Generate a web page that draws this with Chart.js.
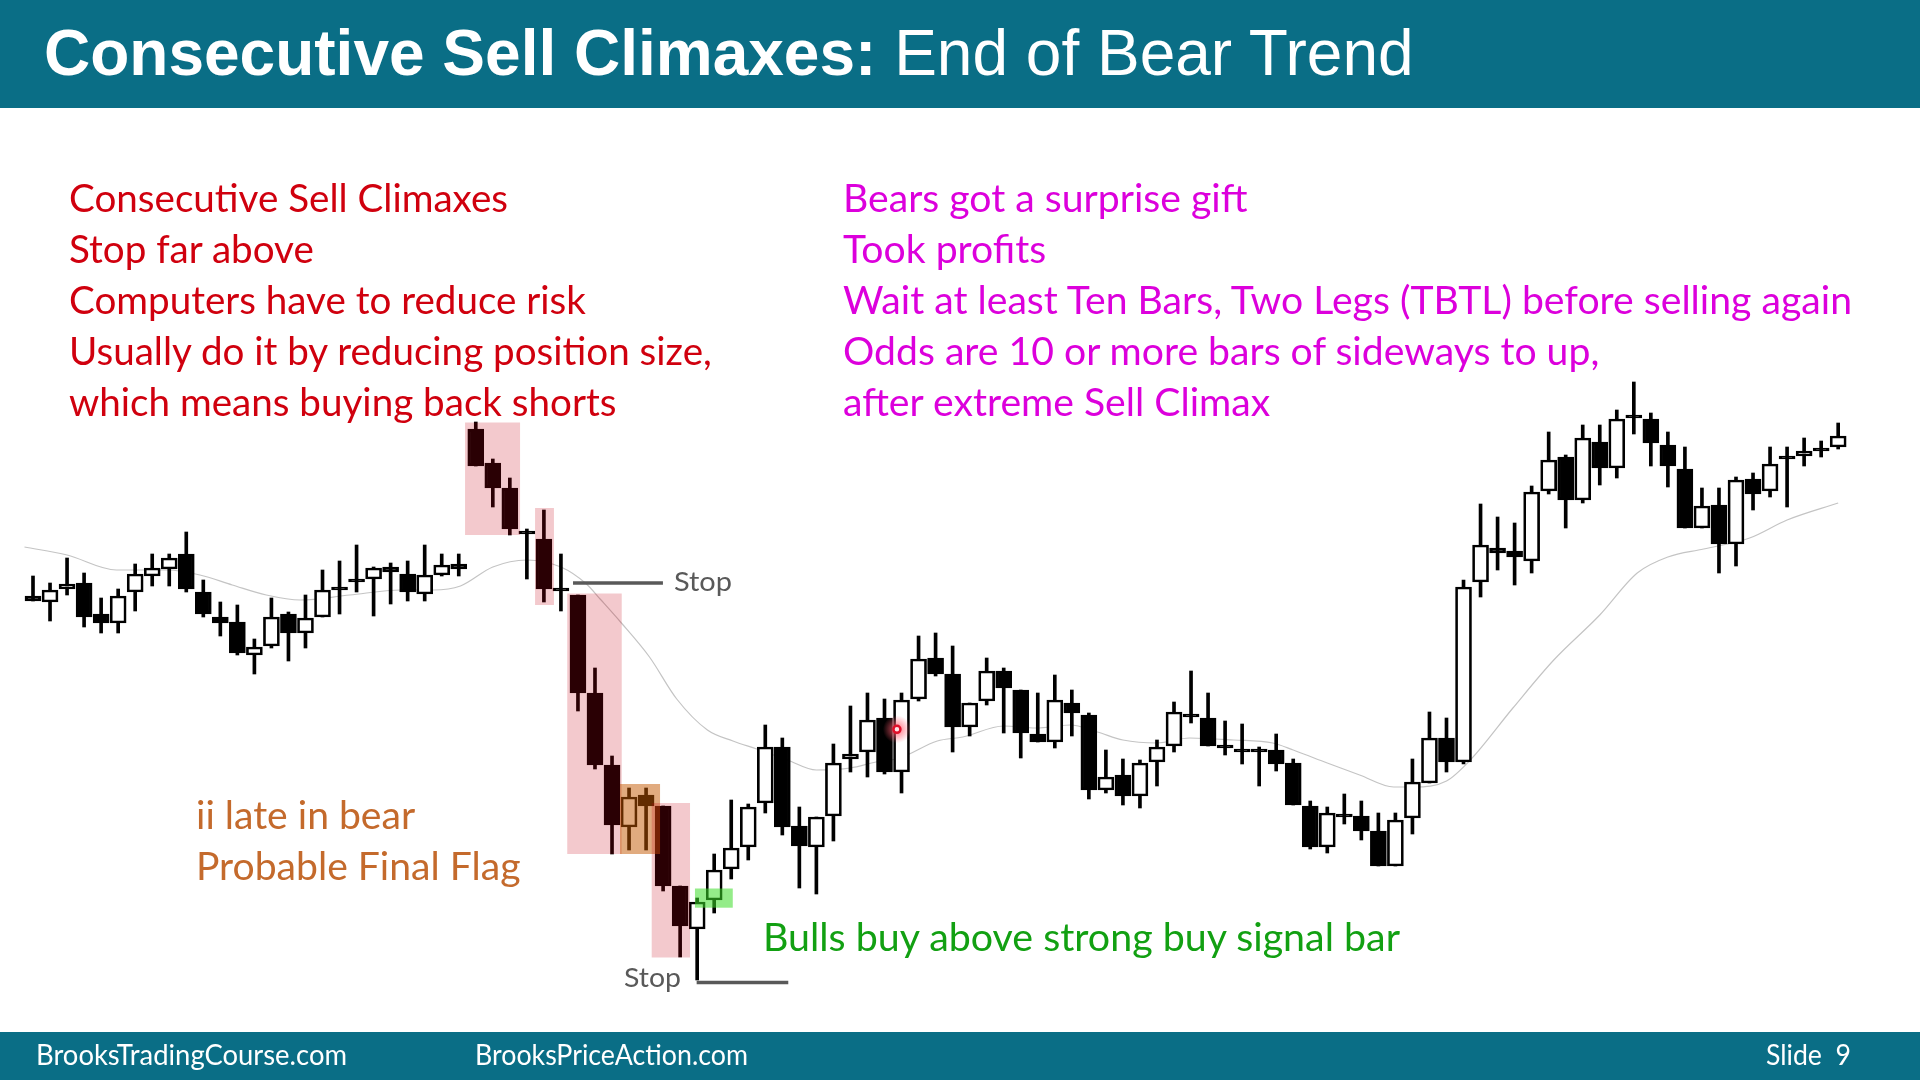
<!DOCTYPE html>
<html>
<head>
<meta charset="utf-8">
<title>Consecutive Sell Climaxes</title>
<script src="https://cdn.jsdelivr.net/npm/chart.js@4.4.1/dist/chart.umd.min.js"></script>
<style>
  html, body { margin: 0; padding: 0; background: #fff; }
  body { width: 1920px; height: 1080px; position: relative; overflow: hidden; font-family: Lato, "Open Sans", sans-serif; }
  .band { position: absolute; left: 0; width: 1920px; background: #0a6e86; }
  #chart { position: absolute; left: 0; top: 0; }
  .txt { position: absolute; white-space: nowrap; transform-origin: 0 0; }
  .note { font-size: 38px; line-height: 51.2px; }
  .red { left: 68.5px; top: 171.5px; color: #d0000e; }
  .mag { left: 842.5px; top: 171.5px; color: #dc00dc; }
  .brown { left: 196px; top: 789px; color: #c46a2c; }
  .green { left: 763px; top: 911px; color: #12a012; }
  .stop { font-size: 26.5px; line-height: 1; color: #595959; }
  .foot { font-size: 29px; line-height: 1; color: #fff; top: 1039px; }
  #title { left: 44px; top: 21px; font-family: "Liberation Sans", Arial, sans-serif; font-size: 64px; line-height: 1; color: #fff; }
</style>
</head>
<body>
<div class="band" style="top:0;height:108px;"></div>
<div class="band" style="top:1032px;height:48px;"></div>
<canvas id="chart" width="1920" height="1080"></canvas>

<div class="txt" id="title"><b>Consecutive Sell Climaxes:</b> End of Bear Trend</div>

<div class="txt note red" data-w="439"><span class="ref">Consecutive Sell Climaxes</span><br>Stop far above<br>Computers have to reduce risk<br>Usually do it by reducing position size,<br>which means buying back shorts</div>
<div class="txt note mag" data-w="1009">Bears got a surprise gift<br>Took profits<br><span class="ref">Wait at least Ten Bars, Two Legs (TBTL) before selling again</span><br>Odds are 10 or more bars of sideways to up,<br>after extreme Sell Climax</div>
<div class="txt note brown" data-w="324.5">ii late in bear<br><span class="ref">Probable Final Flag</span></div>
<div class="txt note green" data-w="637"><span class="ref">Bulls buy above strong buy signal bar</span></div>
<div class="txt stop" style="left:674px;top:568px;" data-w="58"><span class="ref">Stop</span></div>
<div class="txt stop" style="left:624px;top:964px;" data-w="57"><span class="ref">Stop</span></div>

<div class="txt foot" style="left:35.5px;" data-w="311"><span class="ref">BrooksTradingCourse.com</span></div>
<div class="txt foot" style="left:475px;" data-w="273"><span class="ref">BrooksPriceAction.com</span></div>
<div class="txt foot" style="left:1766px;" data-w="85"><span class="ref">Slide&nbsp;&nbsp;9</span></div>

<script>
// price bars, one entry per bar
let opens = [404, 398, 411, 417, 386, 377, 408, 424, 431, 446, 408, 383, 378, 345, 354, 386, 367, 383, 413, 421,
  421, 433, 426, 406, 425, 436, 571, 537, 512, 468, 461, 411, 405, 307, 235, 173, 205, 194, 114, 71,
  100, 131, 153, 197, 253, 174, 153, 184, 241, 248, 282, 228, 301, 342, 326, 273, 299, 329, 310, 266,
  258, 297, 285, 210, 225, 204, 238, 254, 285, 282, 254, 250, 250, 250, 237, 194, 153, 185, 184, 169,
  134, 182, 217, 262, 238, 418, 452, 449, 439, 509, 543, 500, 558, 532, 584, 581, 555, 531, 472, 495,
  456, 521, 509, 543, 544, 551, 553];
let highs = [424, 417, 442, 427, 402, 411, 436, 446, 446, 468, 420, 398, 395, 361, 402, 388, 405, 430, 439, 455,
  433, 437, 439, 455, 446, 446, 578, 541, 522, 471, 490, 446, 405, 332, 244, 212, 212, 194, 114, 102,
  146, 200, 196, 275, 262, 193, 183, 256, 294, 307, 301, 307, 364, 367, 354, 297, 342, 332, 310, 307,
  325, 310, 287, 250, 241, 240, 260, 298, 329, 307, 279, 276, 253, 266, 241, 199, 193, 206, 199, 187,
  187, 241, 288, 282, 420, 496, 483, 477, 514, 568, 545, 575, 575, 590, 618, 587, 568, 553, 512, 512,
  523, 527, 553, 553, 562, 559, 577];
let lows = [399, 379, 405, 373, 367, 367, 389, 414, 414, 408, 383, 364, 345, 326, 352, 339, 352, 383, 386, 408,
  384, 396, 399, 399, 424, 424, 534, 493, 465, 421, 398, 389, 289, 231, 146, 150, 150, 109, 43, 20,
  87, 121, 140, 187, 165, 112, 106, 159, 228, 223, 226, 207, 299, 324, 248, 264, 295, 267, 242, 258,
  252, 264, 201, 207, 195, 192, 214, 248, 277, 254, 245, 236, 214, 229, 195, 151, 147, 176, 160, 134,
  134, 166, 217, 228, 236, 403, 430, 415, 427, 506, 472, 497, 515, 522, 566, 534, 513, 472, 472, 427,
  434, 490, 503, 493, 534, 543, 551];
let closes = [399, 410, 416, 383, 377, 404, 426, 432, 442, 411, 386, 377, 347, 353, 383, 367, 382, 410, 410, 418,
  432, 428, 408, 425, 435, 431, 534, 512, 471, 466, 411, 409, 307, 235, 175, 203, 194, 114, 74, 98,
  130, 152, 193, 253, 173, 154, 183, 237, 246, 280, 228, 300, 341, 326, 273, 297, 329, 312, 267, 258,
  300, 287, 210, 223, 204, 237, 253, 288, 283, 254, 252, 248, 248, 236, 195, 153, 187, 183, 169, 134,
  180, 218, 262, 238, 413, 455, 447, 443, 508, 540, 500, 562, 532, 581, 582, 557, 534, 472, 494, 456,
  520, 506, 536, 541, 549, 549, 564];

// moving average line, bar position and value
let maBar = [0.5, 3, 5.9, 8.9, 10.8, 12.7, 14.7, 16.7, 19.6, 22.6, 24.5, 26.1, 28, 30, 32, 33.5, 34.3, 35.5,
  37.2, 38.8, 40.6, 42.1, 43.5, 45.3, 47, 49, 50.5, 51.9, 54.1, 55.6, 58, 59.9, 61.9, 63.5, 65, 67, 68.9,
  71.5, 73.8, 75, 77, 78.9, 80.9, 82.1, 84, 85.4, 87.9, 90.3, 93, 95.2, 97, 99.1, 101.8, 104, 107];
let maValue = [453, 445, 430, 430, 425, 415, 405, 400, 405, 410, 410, 414, 433, 440, 433, 416, 401, 378,
  343, 301, 270, 259, 251, 240, 230, 232, 238, 242, 259, 263, 274, 272, 275, 268, 260, 257, 262,
  260, 257, 250, 237, 225, 213, 213, 219, 240, 292, 340, 385, 427, 443, 451, 462, 480, 497];

// shaded boxes over the bars
let highlights = [
  { from: 26.37, to: 29.6, low: 465, high: 577.5, color: "rgba(200,0,20,0.21)" },
  { from: 30.48, to: 31.59, low: 395, high: 492, color: "rgba(200,0,20,0.21)" },
  { from: 32.37, to: 35.57, low: 146, high: 406.5, color: "rgba(200,0,20,0.21)" },
  { from: 35.47, to: 37.82, low: 146, high: 216, color: "rgba(196,88,0,0.5)" },
  { from: 37.33, to: 39.58, low: 42.5, high: 197, color: "rgba(200,0,20,0.21)" },
  { from: 39.87, to: 42.09, low: 92.3, high: 111.5, color: "rgba(60,220,40,0.55)" },
];
let stopLines = [
  { from: 32.71, to: 37.99, price: 417 },
  { from: 39.97, to: 45.35, price: 17.6 },
];
let cursorDot = { bar: 51.73, price: 270.7 };

let barGap = 17.03;
let xMin = 1 - 33 / barGap;

// wicks and bodies as floating bars
let wicks = highs.map((h, i) => ({ x: i + 1, y: [lows[i], h] }));
let bodies = opens.map((o, i) => ({ x: i + 1, y: [o, closes[i]] }));
let bodyColors = opens.map((o, i) => (closes[i] >= o ? "#ffffff" : "#000000"));
let maPoints = maBar.map((b, i) => ({ x: b, y: maValue[i] }));

let overlayPlugin = {
  id: "overlays",
  afterDatasetsDraw: (chart) => {
    let ctx = chart.ctx;
    let xs = chart.scales.x;
    let ys = chart.scales.y;
    ctx.save();
    highlights.forEach((h) => {
      let x0 = xs.getPixelForValue(h.from);
      let x1 = xs.getPixelForValue(h.to);
      let y0 = ys.getPixelForValue(h.high);
      let y1 = ys.getPixelForValue(h.low);
      ctx.fillStyle = h.color;
      ctx.fillRect(x0, y0, x1 - x0, y1 - y0);
    });
    ctx.strokeStyle = "#595959";
    ctx.lineWidth = 3.5;
    stopLines.forEach((s) => {
      let y = ys.getPixelForValue(s.price);
      ctx.beginPath();
      ctx.moveTo(xs.getPixelForValue(s.from), y);
      ctx.lineTo(xs.getPixelForValue(s.to), y);
      ctx.stroke();
    });
    // red cursor ring with a soft glow
    let cx = xs.getPixelForValue(cursorDot.bar);
    let cy = ys.getPixelForValue(cursorDot.price);
    let glow = ctx.createRadialGradient(cx, cy, 2, cx, cy, 14);
    glow.addColorStop(0, "rgba(255,90,110,0.75)");
    glow.addColorStop(1, "rgba(255,90,110,0)");
    ctx.fillStyle = glow;
    ctx.beginPath();
    ctx.arc(cx, cy, 14, 0, Math.PI * 2);
    ctx.fill();
    ctx.beginPath();
    ctx.arc(cx, cy, 3.5, 0, Math.PI * 2);
    ctx.fillStyle = "#ffe0e4";
    ctx.fill();
    ctx.strokeStyle = "#e0102a";
    ctx.lineWidth = 2.5;
    ctx.stroke();
    ctx.restore();
  },
};

new Chart(document.querySelector("#chart"), {
  type: "bar",
  data: {
    datasets: [
      {
        type: "line",
        label: "Average",
        data: maPoints,
        borderColor: "#c4c4c4",
        borderWidth: 1.2,
        pointRadius: 0,
        cubicInterpolationMode: "monotone",
        order: 3,
      },
      {
        label: "Wick",
        data: wicks,
        backgroundColor: "#000",
        barThickness: 3,
        grouped: false,
        order: 2,
      },
      {
        label: "Body",
        data: bodies,
        backgroundColor: bodyColors,
        borderColor: "#000",
        borderWidth: 2.7,
        borderSkipped: false,
        barThickness: 16,
        minBarLength: 3,
        grouped: false,
        order: 1,
      },
    ],
  },
  options: {
    responsive: false,
    animation: false,
    layout: { padding: 0 },
    plugins: { legend: { display: false }, tooltip: { enabled: false } },
    scales: {
      x: { type: "linear", offset: false, min: xMin, max: xMin + 1920 / barGap, display: false },
      y: { min: -80, max: 1000, display: false },
    },
  },
  plugins: [overlayPlugin],
});

// squeeze each text block to the width it has on the slide
let fitText = () => {
  document.querySelectorAll("[data-w]").forEach((el) => {
    el.style.transform = "none";
    let ref = el.querySelector(".ref");
    let w = ref.getBoundingClientRect().width;
    if (w > 0) el.style.transform = `scaleX(${Number(el.dataset.w) / w})`;
  });
};
fitText();
document.fonts.ready.then(fitText);
</script>
</body>
</html>
